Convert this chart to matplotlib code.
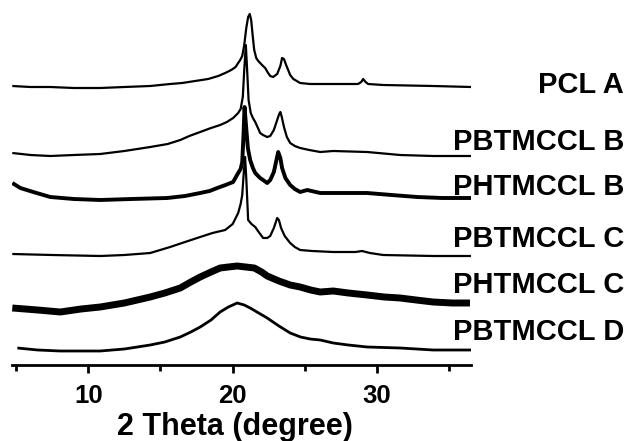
import matplotlib
matplotlib.use("Agg")
import matplotlib.pyplot as plt
from matplotlib.ticker import MultipleLocator

plt.rcParams['font.family'] = ['Liberation Sans', 'DejaVu Sans']
plt.rcParams['font.weight'] = 'bold'

labels = ["PCL A", "PBTMCCL B", "PHTMCCL B", "PBTMCCL C", "PHTMCCL C", "PBTMCCL D"]
offsets = [277, 210, 165, 109, 53, 14]

x_pcl_a = [4.74, 6.0, 7.37, 9.0, 10.83, 12.5, 14.29, 15.67, 16.5, 17.40, 18.3, 19.0, 19.48, 19.9,
           20.2, 20.38, 20.52, 20.66, 20.80, 20.94, 21.07, 21.18, 21.28, 21.38, 21.49, 21.63,
           21.77, 21.90, 22.1, 22.25, 22.45, 22.60, 22.8, 23.08, 23.3, 23.42, 23.55, 23.70,
           23.98, 24.2, 24.67, 25.36, 26.96, 28.68, 28.9, 29.03, 29.2, 29.38, 30.42, 33.88, 36.5]
y_pcl_a = [2, 1, 1, 0, 0, 1, 2, 4, 5, 7, 9, 12, 15, 18, 21, 25, 28, 32, 43, 60, 71, 74, 68, 53,
           38, 30, 27, 25, 22, 20, 15, 12, 11, 14, 22, 30, 29, 23, 13, 9, 5, 4, 4, 4, 6, 9, 6, 4,
           3, 2, 1]

x_pbtmccl_b = [4.74, 6.0, 7.37, 9.0, 10.83, 12.5, 14.29, 15.5, 16.37, 17.0, 17.75, 18.5, 19.13,
               19.6, 20.03, 20.38, 20.55, 20.7, 20.8, 20.91, 21.0, 21.1, 21.25, 21.4, 21.56,
               21.75, 21.90, 22.1, 22.39, 22.6, 22.85, 23.08, 23.22, 23.3, 23.4, 23.55, 23.75,
               23.98, 24.3, 24.67, 25.3, 26.06, 26.96, 29.31, 31.59, 33.88, 36.5]
y_pbtmccl_b = [2, 0, -1, 0, 1, 4, 8, 11, 15, 19, 23, 27, 30, 33, 37, 42, 46, 58, 85, 110, 85,
               55, 42, 37, 33, 27, 22, 20, 18, 19, 25, 35, 41, 43, 38, 28, 18, 12, 9, 7, 5, 3, 4,
               3, 0, -1, -1]

x_phtmccl_b = [4.74, 5.3, 6.19, 7.37, 9.0, 10.83, 13.0, 15.47, 16.7, 17.75, 18.4, 18.93, 19.5,
               20.03, 20.38, 20.55, 20.66, 20.75, 20.82, 20.92, 21.05, 21.21, 21.4, 21.56,
               21.9, 22.2, 22.39, 22.60, 22.85, 23.0, 23.15, 23.3, 23.42, 23.65, 23.98, 24.3,
               24.67, 25.16, 26.06, 27.5, 29.31, 31.0, 32.77, 34.5, 36.5]
y_phtmccl_b = [17, 12, 8, 3, 1, 0, 1, 2, 4, 7, 9, 12, 15, 18, 27, 31, 38, 65, 93, 75, 52, 40,
               32, 27, 22, 19, 17, 20, 28, 38, 48, 42, 32, 22, 15, 11, 8, 10, 7, 7, 7, 5, 3, 2,
               2]

x_pbtmccl_c = [4.74, 7.5, 10.83, 12.5, 14.29, 15.67, 16.7, 17.75, 18.6, 19.48, 20.0, 20.38,
               20.55, 20.66, 20.76, 20.86, 20.95, 21.07, 21.3, 21.56, 21.8, 22.11, 22.39, 22.6,
               22.85, 23.08, 23.2, 23.35, 23.6, 23.98, 24.3, 24.67, 25.5, 26.96, 28.5, 28.96,
               29.5, 30.42, 33.88, 36.5]
y_pbtmccl_c = [2, 1, 0, 1, 3, 9, 14, 19, 23, 26, 32, 43, 52, 61, 82, 99, 75, 36, 32, 29, 24, 18,
               18, 20, 28, 38, 36, 28, 20, 13, 9, 6, 5, 4, 4, 5, 3, 1, 0, 0]

x_phtmccl_c = [4.74, 6.5, 8.06, 9.5, 10.83, 12.5, 14.29, 15.3, 16.37, 17.1, 17.75, 18.5, 19.13,
               19.7, 20.31, 20.9, 21.5, 22.0, 22.39, 23.2, 23.98, 24.67, 25.4, 26.06, 26.96,
               28.0, 29.31, 30.5, 31.59, 32.7, 33.88, 35.2, 36.43]
y_phtmccl_c = [4, 2, 0, 3, 5, 9, 15, 19, 24, 30, 35, 40, 44, 45, 46, 45, 44, 40, 36, 31, 27, 25,
               22, 20, 21, 19, 17, 15, 14, 12, 10, 9, 9]

x_pbtmccl_d = [5.09, 6.5, 8.06, 9.5, 10.83, 12.5, 14.29, 15.3, 16.37, 17.1, 17.75, 18.5, 19.13,
               19.7, 20.31, 20.8, 21.21, 21.8, 22.39, 23.2, 23.98, 24.7, 25.36, 26.06, 26.96,
               28.0, 29.31, 31.59, 33.88, 36.5]
y_pbtmccl_d = [3, 1, 0, 0, 0, 2, 6, 9, 14, 19, 24, 31, 39, 44, 48, 46, 43, 38, 33, 25, 18, 14,
               12, 11, 8, 6, 4, 3, 1, 1]

series_x = [x_pcl_a, x_pbtmccl_b, x_phtmccl_b, x_pbtmccl_c, x_phtmccl_c, x_pbtmccl_d]
series_y = [y_pcl_a, y_pbtmccl_b, y_phtmccl_b, y_pbtmccl_c, y_phtmccl_c, y_pbtmccl_d]
line_widths = [1.6, 1.6, 2.8, 1.6, 5.0, 2.0]
label_baselines_px = [93, 150, 195, 247, 293, 340]

W, H = 626, 441
fig = plt.figure(figsize=(W / 100, H / 100), dpi=100)
ax = fig.add_axes([12 / W, (H - 365) / H, 459 / W, 360 / H])

for xs, ys, off, lw in zip(series_x, series_y, offsets, line_widths):
    ax.plot(xs, [v + off for v in ys], color='black', lw=lw,
            solid_joinstyle='round', solid_capstyle='butt')

ax.set_xlim(4.72, 36.5)
ax.set_ylim(0, 360)
for s in ['top', 'left', 'right']:
    ax.spines[s].set_visible(False)
ax.spines['bottom'].set_linewidth(2)
ax.set_yticks([])
ax.xaxis.set_major_locator(MultipleLocator(10))
ax.xaxis.set_minor_locator(MultipleLocator(5))
ax.tick_params(axis='x', which='major', length=6, width=2, pad=8, labelsize=18.5)
ax.tick_params(axis='x', which='minor', length=4, width=2)
for t in ax.get_xticklabels():
    t.set_fontweight('bold')

fig.text(235 / W, (H - 435) / H, "2 Theta (degree)", ha='center', va='baseline',
         fontsize=22, fontweight='bold')

for lab, yb in zip(labels, label_baselines_px):
    fig.text(624 / W, (H - yb) / H, lab, ha='right', va='baseline',
             fontsize=21, fontweight='bold')

fig.savefig("out.png", dpi=100)
